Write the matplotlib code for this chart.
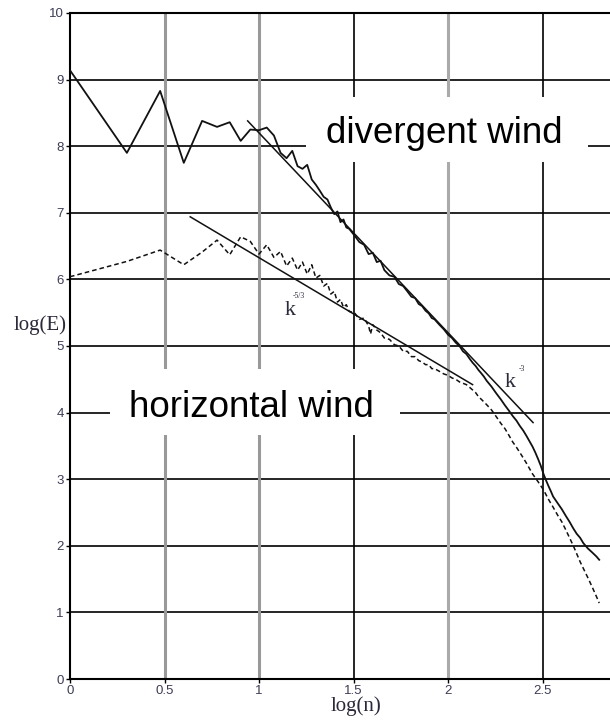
#!/usr/bin/env python
# coding: utf-8

import matplotlib
matplotlib.use('Agg')
from matplotlib.pyplot import figure
from matplotlib.patches import Rectangle

# espectro do vento divergente (linha cheia): log(n) x log(E)
div_logn = [0.000, 0.301, 0.477, 0.602, 0.699, 0.778, 0.845, 0.903, 0.954, 1.000,
            1.041, 1.079, 1.114, 1.146, 1.176, 1.204, 1.230, 1.255, 1.279, 1.301,
            1.322, 1.342, 1.362, 1.380, 1.398, 1.415, 1.431, 1.447, 1.462, 1.477,
            1.505, 1.531, 1.556, 1.580, 1.602, 1.623, 1.643, 1.663, 1.690, 1.716,
            1.740, 1.763, 1.785, 1.806, 1.826, 1.845, 1.863, 1.881, 1.898, 1.914,
            1.929, 1.954, 1.978, 2.000, 2.021, 2.041, 2.061, 2.079, 2.097, 2.114,
            2.130, 2.146, 2.161, 2.176, 2.190, 2.204, 2.230, 2.255, 2.279, 2.301,
            2.322, 2.342, 2.362, 2.380, 2.398, 2.415, 2.431, 2.447, 2.462, 2.477,
            2.491, 2.505, 2.519, 2.531, 2.544, 2.556, 2.580, 2.602, 2.623, 2.643,
            2.663, 2.681, 2.699, 2.716, 2.740, 2.763, 2.785, 2.800]
div_logE = [9.14, 7.90, 8.83, 7.75, 8.38, 8.29, 8.36, 8.08, 8.25, 8.24,
            8.28, 8.16, 7.90, 7.82, 7.93, 7.70, 7.66, 7.72, 7.50, 7.42,
            7.33, 7.24, 7.20, 7.08, 6.98, 7.02, 6.86, 6.90, 6.78, 6.76,
            6.66, 6.56, 6.52, 6.38, 6.40, 6.26, 6.28, 6.14, 6.06, 6.04,
            5.93, 5.90, 5.82, 5.74, 5.72, 5.63, 5.60, 5.53, 5.49, 5.42,
            5.40, 5.32, 5.25, 5.17, 5.12, 5.05, 5.00, 4.92, 4.88, 4.81,
            4.75, 4.70, 4.64, 4.59, 4.54, 4.48, 4.39, 4.29, 4.20, 4.11,
            4.03, 3.95, 3.88, 3.80, 3.73, 3.65, 3.57, 3.49, 3.40, 3.30,
            3.20, 3.08, 2.98, 2.90, 2.82, 2.74, 2.64, 2.55, 2.45, 2.36,
            2.26, 2.18, 2.12, 2.04, 1.96, 1.90, 1.84, 1.79]

# espectro do vento horizontal (tracejado)
hor_logn = [0.000, 0.301, 0.477, 0.602, 0.699, 0.778, 0.845, 0.903, 0.954, 1.000,
            1.041, 1.079, 1.114, 1.146, 1.176, 1.204, 1.230, 1.255, 1.279, 1.301,
            1.322, 1.342, 1.362, 1.380, 1.398, 1.415, 1.431, 1.447, 1.462, 1.477,
            1.505, 1.531, 1.556, 1.580, 1.590, 1.602, 1.623, 1.643, 1.663, 1.690,
            1.716, 1.740, 1.763, 1.785, 1.806, 1.826, 1.845, 1.863, 1.881, 1.898,
            1.914, 1.929, 1.954, 1.978, 2.000, 2.021, 2.041, 2.061, 2.079, 2.097,
            2.114, 2.130, 2.146, 2.161, 2.176, 2.190, 2.204, 2.230, 2.255, 2.279,
            2.301, 2.322, 2.342, 2.362, 2.380, 2.398, 2.415, 2.431, 2.447, 2.462,
            2.477, 2.491, 2.505, 2.531, 2.556, 2.580, 2.602, 2.623, 2.643, 2.663,
            2.681, 2.699, 2.716, 2.740, 2.763, 2.785, 2.800]
hor_logE = [6.04, 6.27, 6.44, 6.22, 6.41, 6.59, 6.37, 6.64, 6.57, 6.38,
            6.52, 6.33, 6.42, 6.20, 6.32, 6.14, 6.26, 6.08, 6.22, 6.02,
            6.06, 5.90, 5.94, 5.78, 5.82, 5.66, 5.70, 5.58, 5.62, 5.52,
            5.50, 5.40, 5.42, 5.30, 5.18, 5.32, 5.24, 5.20, 5.12, 5.10,
            5.02, 5.00, 4.92, 4.92, 4.84, 4.84, 4.78, 4.76, 4.72, 4.72,
            4.66, 4.66, 4.62, 4.58, 4.56, 4.52, 4.50, 4.46, 4.44, 4.42,
            4.38, 4.34, 4.30, 4.24, 4.20, 4.16, 4.12, 4.04, 3.94, 3.84,
            3.76, 3.66, 3.56, 3.48, 3.40, 3.32, 3.24, 3.16, 3.08, 3.02,
            2.96, 2.90, 2.84, 2.70, 2.58, 2.46, 2.36, 2.24, 2.12, 2.00,
            1.88, 1.76, 1.66, 1.52, 1.38, 1.24, 1.14]

# retas de referencia k^-3 e k^-5/3
fit3_logn = [0.94, 2.45]
fit3_logE = [8.38, 3.85]
fit53_logn = [0.636, 2.13]
fit53_logE = [6.94, 4.42]

x_ticks = [0, 0.5, 1, 1.5, 2, 2.5]
x_tick_labels = ['0', '0.5', '1', '1.5', '2', '2.5']
y_ticks = [0, 1, 2, 3, 4, 5, 6, 7, 8, 9, 10]

LINHA = '#111111'
ROTULO = '#3c3c55'
SERIF = 'Liberation Serif'
SANS = 'Liberation Sans'


###############################################################################
def grafico():
    fig = figure(figsize=(6.10, 7.21), dpi=100)
    ax = fig.add_axes([70 / 610., 1 - 679 / 721., 1 - 70 / 610., 666 / 721.])
    ax.set_xlim(0, 2.857)
    ax.set_ylim(0, 10)

    # grade: horizontais pretas, verticais alternando cinza e preto
    for y in y_ticks[1:-1]:
        ax.axhline(y, color='black', lw=1.2, zorder=1)
    for x, cor, lw in [(0.5, '#999999', 2.2), (1.0, '#999999', 2.2),
                       (1.5, 'black', 1.2), (2.0, '#aaaaaa', 2.2),
                       (2.5, 'black', 1.2)]:
        ax.axvline(x, color=cor, lw=lw, zorder=1)

    for lado in ['left', 'bottom', 'top']:
        ax.spines[lado].set_linewidth(1.5)
        ax.spines[lado].set_color('black')
    ax.spines['right'].set_visible(False)

    ax.set_xticks(x_ticks)
    ax.set_xticklabels(x_tick_labels)
    ax.set_yticks(y_ticks)
    ax.tick_params(direction='out', length=3, width=1, labelsize=9.5,
                   labelcolor=ROTULO, pad=1.5)
    for t in ax.get_xticklabels() + ax.get_yticklabels():
        t.set_family(SANS)

    ax.set_ylabel('log(E)', rotation=0, family=SERIF, fontsize=15,
                  color='#2a2a3a', ha='center', va='center')
    ax.yaxis.set_label_coords(-30 / 540., 354 / 666.)
    ax.set_xlabel('log(n)', family=SERIF, fontsize=15, color='#2a2a3a',
                  va='center')
    ax.xaxis.set_label_coords(286 / 540., -27 / 666.)

    # caixas brancas dos titulos das curvas
    ax.add_patch(Rectangle((1.249, 7.76), 1.492, 0.98, facecolor='white',
                           edgecolor='none', zorder=2))
    ax.text(1.979, 8.05, 'divergent wind', ha='center', va='baseline',
            fontsize=26.5, family=SANS, zorder=3)
    ax.add_patch(Rectangle((0.21, 3.66), 1.536, 0.99, facecolor='white',
                           edgecolor='none', zorder=2))
    ax.text(0.96, 3.93, 'horizontal wind', ha='center', va='baseline',
            fontsize=26.5, family=SANS, zorder=3)

    ax.plot(div_logn, div_logE, '-', color=LINHA, lw=1.3, zorder=4)
    ax.plot(hor_logn, hor_logE, color=LINHA, lw=1.1, zorder=4,
            linestyle=(0, (3, 2)))
    ax.plot(fit3_logn, fit3_logE, '-', color=LINHA, lw=1.1, zorder=4)
    ax.plot(fit53_logn, fit53_logE, '-', color=LINHA, lw=1.1, zorder=4)

    ax.text(1.138, 5.465, 'k', family=SERIF, fontsize=16, color='#2a2a3a',
            va='baseline', zorder=5)
    ax.text(1.18, 5.72, '-5/3', family=SERIF, fontsize=5.5, color='#2a2a3a',
            va='baseline', zorder=5)
    ax.text(2.302, 4.385, 'k', family=SERIF, fontsize=16, color='#2a2a3a',
            va='baseline', zorder=5)
    ax.text(2.372, 4.62, '-3', family=SERIF, fontsize=5.5, color='#2a2a3a',
            va='baseline', zorder=5)
    return fig


###############################################################################
if __name__ == '__main__':
    fig = grafico()
    fig.savefig('out.png', dpi=100)
